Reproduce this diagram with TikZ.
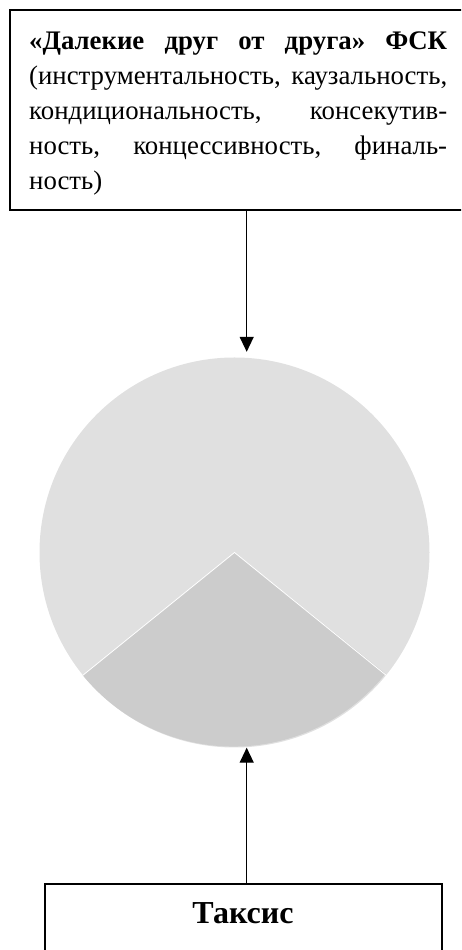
\documentclass[tikz,border=0pt]{standalone}
\usepackage{fontspec}
\setmainfont{Liberation Serif}
\usetikzlibrary{arrows.meta}
\definecolor{slicelight}{HTML}{E0E0E0}
\definecolor{slicedark}{HTML}{CCCCCC}
\begin{document}
\begin{tikzpicture}[x=1pt,y=1pt,
  boxframe/.style={draw=black, line width=2.2pt, fill=white, inner sep=0pt},
  arr/.style={-{Triangle[width=14pt,length=15pt]}, line width=1.3pt},
  bodytext/.style={inner sep=0pt, align=left, font=\fontsize{26.8}{35}\selectfont}
]
\useasboundingbox (0,0) rectangle (461,950);
\clip (0,0) rectangle (461,950);
% top box
\node[boxframe, anchor=north west, minimum width=461pt, minimum height=200pt] (top) at (9,941) {};
\node[bodytext, anchor=north west] (toptext) at (29,925.5) {%
\strut\hbox to 418pt{\textbf{«Далекие\hfill друг\hfill от\hfill друга»\hfill ФСК}}\\
\hbox to 418pt{(инструментальность,\hfill каузальность,}\\
\hbox to 418pt{кондициональность,\hfill консекутив-}\\
\hbox to 418pt{ность,\hfill концессивность,\hfill финаль-}\\
ность)};
% pie
\node[circle, minimum size=390pt, inner sep=0pt, fill=slicelight] (pie) at (234.5,397.5) {};
\fill[slicedark] (pie.center) -- (pie.219.4) arc[start angle=219.4, end angle=321.2, radius=195pt] -- cycle;
\draw[white, line width=0.8pt] (pie.219.4) -- (pie.center) -- (pie.321.2);
% bottom box
\node[boxframe, anchor=north west, minimum width=397pt, minimum height=100pt] (bot) at (44,67) {};
\node[inner sep=0pt, anchor=base, font=\fontsize{32}{35}\selectfont\bfseries] (bottext) at (243,27) {Таксис};
% arrows
\coordinate (ax) at (246.7,0);
\draw[arr, shorten >=5.5pt] (top.south -| ax) -- (pie.north -| ax);
\draw[arr] (bot.north -| ax) -- (pie.south -| ax);
\end{tikzpicture}
\end{document}
